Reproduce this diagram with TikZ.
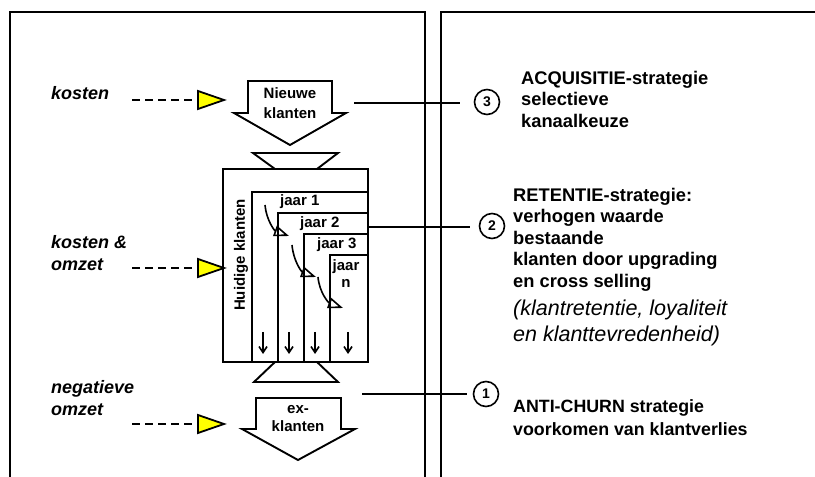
\documentclass[tikz,border=0pt]{standalone}
\usepackage{fontspec}
\setmainfont{Liberation Sans}
\usetikzlibrary{positioning,arrows.meta}
\definecolor{tipyellow}{RGB}{255,255,0}

\begin{document}
\begin{tikzpicture}[x=1pt, y=1pt,
    frame/.style={line width=2pt},
    blockarrow/.style={draw, line width=1.9pt, fill=white, line join=miter},
    yeltip/.style={draw, fill=tipyellow, line width=1.8pt},
    cost/.style={line width=1.6pt, dash pattern=on 8pt off 5pt},
    costlbl/.style={font=\bfseries\itshape\fontsize{18}{22}\selectfont, align=left, inner sep=0pt},
    strat/.style={font=\bfseries\fontsize{18.3}{21.4}\selectfont, align=left, inner sep=0pt},
    stratnote/.style={font=\itshape\fontsize{21.5}{26}\selectfont, align=left, inner sep=0pt},
    nr/.style={circle, draw, line width=1.6pt, minimum size=25pt, inner sep=0pt, font=\bfseries\fontsize{14}{16}\selectfont},
    lbl/.style={font=\bfseries\fontsize{15}{19}\selectfont, align=center, inner sep=0pt},
    conn/.style={line width=1.7pt},
    flow/.style={-{Triangle[open, length=15pt, width=11pt]}, line width=1.6pt},
    drop/.style={-{Straight Barb[length=6pt, width=8pt]}, line width=1.6pt}]
    \useasboundingbox (0,0) rectangle (815,477);

    % Frames
    \draw[frame] (10,0) -- (10,465) -- (425,465) -- (425,0);
    \draw[frame] (441,0) -- (441,465) -- (815,465);

    % Customer flow
    \draw[blockarrow] (248,396) -- (332,396) -- (332,364) -- (346,364) -- (290,332) -- (234,364) -- (248,364) -- cycle;
    \node[lbl, font=\bfseries\fontsize{15}{20}\selectfont] (nieuw) at (290,374.2) {Nieuwe\\klanten};
    \draw[blockarrow] (253,324) -- (338,324) -- (317,308) -- (275,308) -- cycle;
    \draw[blockarrow] (223,115) rectangle (368,308);
    \foreach \x/\y in {252/285, 278/264, 304/243, 330/222}
        \draw[blockarrow] (\x,115) rectangle (368,\y);
    \draw[blockarrow] (275,115) -- (317,115) -- (338,95) -- (254,95) -- cycle;
    \draw[blockarrow] (256,79) -- (341,79) -- (341,48) -- (355,48) -- (298,17) -- (242,48) -- (256,48) -- cycle;
    \node[lbl, font=\bfseries\fontsize{15}{18.4}\selectfont] (ex) at (298,58.5) {ex-\\klanten};

    % Years
    \node[lbl, rotate=90] (huidig) at (241,222) {Huidige klanten};
    \node[lbl, anchor=base west] (j1) at (280,271) {jaar 1};
    \node[lbl, anchor=base west] (j2) at (300,249.7) {jaar 2};
    \node[lbl, anchor=base west] (j3) at (317,228) {jaar 3};
    \node[lbl, font=\bfseries\fontsize{15}{16.6}\selectfont] (jn) at (346,203.3) {jaar\\n};
    \draw[flow] (265,272) to[out=-85, in=160] (289,241);
    \draw[flow] (292,232) to[out=-85, in=160] (316,200);
    \draw[flow] (318,200) to[out=-85, in=160] (343,169);
    \foreach \x in {263,289,315,348}
        \draw[drop] (\x,145) -- (\x,123);

    % Costs and revenue
    \node[costlbl, anchor=base west] (kost) at (51,377) {kosten};
    \node[costlbl, anchor=north west] (kostomz) at (51,242) {kosten \&\\omzet};
    \node[costlbl, anchor=north west] (negomz) at (51,97) {negatieve\\omzet};
    \foreach \n/\y in {1/377, 2/209, 3/53} {
        \coordinate (dash\n) at (132,\y);
        \coordinate (tip\n) at (198,\y);
        \draw[yeltip] (tip\n) ++(0,9) -- ++(26,-9) -- ++(-26,-9) -- cycle;
        \draw[cost] (dash\n) -- (tip\n);
    }

    % Strategies
    \node[nr] (c3) at (487,375) {3};
    \node[nr] (c2) at (492,251) {2};
    \node[nr] (c1) at (486,83) {1};
    \coordinate (acq) at (354,374);
    \coordinate (ret) at (368,250);
    \coordinate (churn) at (362,83);
    \draw[conn, shorten >=13.5pt] (acq) -- (acq -| c3.west);
    \draw[conn, shorten >=8.5pt] (ret) -- (ret -| c2.west);
    \draw[conn, shorten >=5.5pt] (churn) -- (churn -| c1.west);
    \node[strat, anchor=north west] (acqtxt) at (521,406) {ACQUISITIE-strategie\\selectieve\\kanaalkeuze};
    \node[strat, anchor=north west] (rettxt) at (513,289) {RETENTIE-strategie:\\verhogen waarde\\bestaande\\klanten door upgrading\\en cross selling};
    \node[stratnote, below=9pt of rettxt.south west, anchor=north west] (retnote) {(klantretentie, loyaliteit\\en klanttevredenheid)};
    \node[strat, font=\bfseries\fontsize{17.8}{23}\selectfont, anchor=north west] (churntxt) at (513,78) {ANTI-CHURN strategie\\voorkomen van klantverlies};
\end{tikzpicture}
\end{document}
